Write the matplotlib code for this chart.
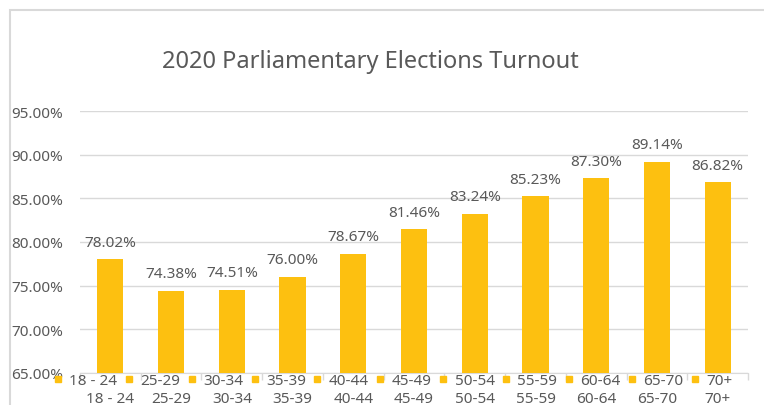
import matplotlib
matplotlib.use("Agg")
import matplotlib.pyplot as plt
from matplotlib.lines import Line2D
from matplotlib.patches import Rectangle
from matplotlib.ticker import FuncFormatter, FixedLocator
import numpy as np

plt.rcParams['font.family'] = ['Noto Sans', 'DejaVu Sans']

# data
age_groups = ['18 - 24', '25-29', '30-34', '35-39', '40-44', '45-49',
              '50-54', '55-59', '60-64', '65-70', '70+']
turnout = [78.02, 74.38, 74.51, 76.00, 78.67, 81.46,
           83.24, 85.23, 87.30, 89.14, 86.82]
yticks = [65, 70, 75, 80, 85, 90, 95]

bar_color = '#FDC010'
text_color = '#595959'
grid_color = '#D9D9D9'

fig = plt.figure(figsize=(7.64, 4.06), dpi=100)
ax = fig.add_axes([80/764, 1-374/406, 668/764, 262/406])

x = np.arange(len(age_groups))
bars = ax.bar(x, turnout, width=0.43, color=bar_color, zorder=3)

ax.set_xlim(-0.5, len(age_groups)-0.5)
ax.set_ylim(65, 95)
ax.set_yticks(yticks)
ax.yaxis.set_major_formatter(FuncFormatter(lambda v, p: f'{v:.2f}%'))
ax.grid(axis='y', color=grid_color, lw=1, zorder=0)

for s in ['top', 'right', 'left']:
    ax.spines[s].set_visible(False)
ax.spines['bottom'].set_color(grid_color)

ax.tick_params(axis='y', length=0, pad=12, labelsize=11, labelcolor=text_color)
ax.set_xticks(x)
ax.set_xticklabels(age_groups)
ax.tick_params(axis='x', which='major', length=0, pad=13, labelsize=11,
               labelcolor=text_color)
ax.xaxis.set_minor_locator(FixedLocator(np.arange(-0.5, len(age_groups), 1)))
ax.tick_params(axis='x', which='minor', length=5, color=grid_color, width=1)

for b, v in zip(bars, turnout):
    ax.annotate(f'{v:.2f}%', (b.get_x() + b.get_width()/2, v),
                xytext=(0, 7), textcoords='offset points',
                ha='center', va='bottom', fontsize=11, color=text_color)

# legend row (one square key per category)
handles = [Line2D([], [], marker='s', ls='none', color=bar_color, markersize=4.5)
           for _ in age_groups]
fig.legend(handles, age_groups, loc='upper center', ncol=len(age_groups),
           bbox_to_anchor=(393/764, 1-374/406), frameon=False, fontsize=11,
           handlelength=0.6, handletextpad=0.45, columnspacing=0.45,
           borderpad=0, borderaxespad=0, labelcolor=text_color)

fig.text(370/764, 1-62/406, '2020 Parliamentary Elections Turnout',
         ha='center', va='center', fontsize=17, color=text_color)

# chart area border (left and top edges visible)
fig.patches.append(Rectangle((9.5/764, -0.5), 2, 1-10.5/406+0.5, transform=fig.transFigure,
                             fill=False, edgecolor=grid_color, lw=1.5))

fig.savefig('out.png', dpi=100, facecolor='white')
